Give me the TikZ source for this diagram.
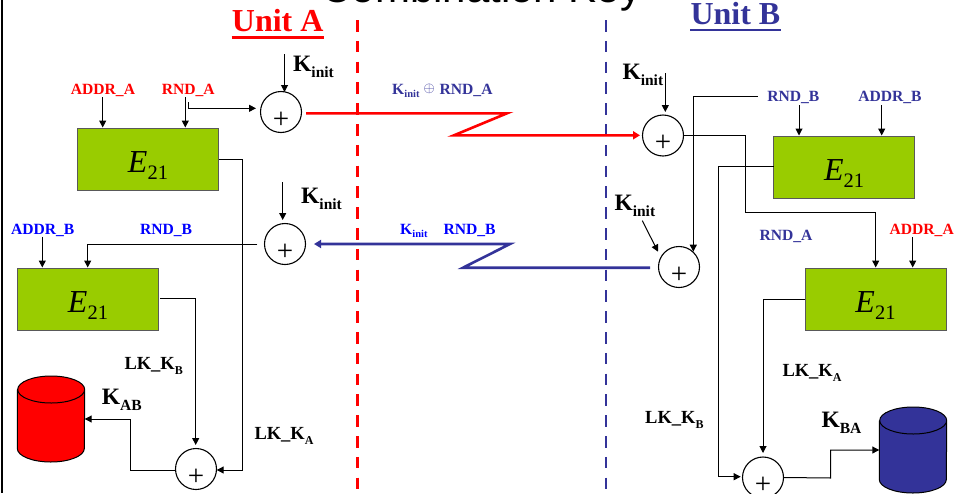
\documentclass[tikz,border=0pt]{standalone}
\usepackage{fontspec}
\setmainfont{Liberation Serif}
\newfontfamily\titlefont{Liberation Sans}
\usetikzlibrary{arrows.meta}
\definecolor{navy}{HTML}{333399}
\definecolor{pure}{HTML}{0000FF}
\definecolor{leaf}{HTML}{99CC00}
\newcommand{\fs}[1]{\fontsize{#1}{#1}\selectfont}
\newcommand{\Ksub}[1]{{\fs{23.5}\textbf{K}\raisebox{-6pt}{\fs{15.5}\textbf{#1}}}}
\newcommand{\LK}[1]{{\fs{18.5}\textbf{LK\_K}\raisebox{-5pt}{\fs{12}\textbf{#1}}}}
\newcommand{\Eblock}{\raisebox{-13pt}[0pt][0pt]{\fs{32}\textit{E}\raisebox{-7pt}{\fs{20.5}21}}}
\newcommand{\Kthin}{\textbf{K}\raisebox{-3pt}{\fs{10.5}\textbf{init}}}
\newcommand{\drum}[2]{%
  \draw[line width=1pt,black,fill=#2] ([yshift=29.5pt]#1.west) -- ([yshift=-29.5pt]#1.west)
    arc[start angle=180,end angle=360,x radius=33.5pt,y radius=13.5pt]
    -- ([yshift=29.5pt]#1.east)
    arc[start angle=0,end angle=360,x radius=33.5pt,y radius=13.5pt];
}
\tikzset{
  x=1pt,y=-1pt,
  wire/.style={line width=1pt,black},
  arrowed/.style={wire,-{Triangle[length=7pt,width=7pt]}},
  xorsum/.style={circle,draw=black,line width=1.1pt,fill=white,minimum size=41pt,inner sep=0pt,
    execute at begin node={\raisebox{-16pt}[0pt][0pt]{\fs{29}+}\phantom{}}},
  cipher/.style={rectangle,draw=black!65,line width=1pt,fill=leaf,minimum width=141pt,minimum height=62pt,inner sep=0pt},
  tag/.style={inner sep=0pt,anchor=base,font=\fs{15.6}\bfseries},
  keytag/.style={inner sep=0pt,anchor=base west,text=black},
  unit/.style={inner sep=0pt,anchor=base west,font=\fs{32}\bfseries},
  store/.style={rectangle,minimum width=67pt,minimum height=86pt,inner sep=0pt},
  boundary/.style={line width=2.8pt,dash pattern=on 11.5pt off 9.3pt},
  link/.style={line width=2.6pt,line join=miter,-{Triangle[length=7pt,width=8pt]}},
}
\begin{document}
\begin{tikzpicture}
\useasboundingbox (0,0) rectangle (958,493);
\clip (0,0) rectangle (958,493);
\node[inner sep=0pt,anchor=base] (title) at (481.5,2) {\titlefont\fs{42}Combination Key};
\draw[line width=2.3pt,black] (2,0) -- (2,493);
% boundaries
\coordinate (redtop) at (357.5,20); \coordinate (redbot) at (357.5,493);
\coordinate (blutop) at (606,20); \coordinate (blubot) at (606,493);
\draw[boundary,red] (redtop) -- (redbot);
\draw[boundary,navy] (blutop) -- (blubot);
% units
\node[unit,text=red] (ua) at (231.7,31.7) {Unit A};
\node[unit,text=navy] (ub) at (690.3,24) {Unit B};
\draw[line width=2.5pt,red] ([yshift=-5.6pt]ua.base west) -- ([yshift=-5.6pt]ua.base east);
\draw[line width=2.5pt,navy] ([yshift=-6pt]ub.base west) -- ([yshift=-6pt]ub.base east);
% blocks
\node[cipher] (e1) at (148,159) {\Eblock};
\node[cipher] (e2) at (88,299) {\Eblock};
\node[cipher] (e3) at (844.2,167) {\Eblock};
\node[cipher] (e4) at (875.5,299) {\Eblock};
% xor
\node[xorsum] (c1) at (281,112) {};
\node[xorsum] (c2) at (285,244) {};
\node[xorsum] (c3) at (196,469) {};
\node[xorsum] (c4) at (663,135.5) {};
\node[xorsum] (c5) at (679,267) {};
\node[xorsum] (c6) at (763,477.5) {};
% stores
\node[store] (dba) at (51,419) {};
\node[store] (dbb) at (913,450) {};
\drum{dba}{red}
\drum{dbb}{navy}
% small labels
\node[tag,text=red] (addra) at (103,94.3) {ADDR\_A};
\node[tag,text=red] (rnda) at (188.3,94.3) {RND\_A};
\node[tag,text=pure] (addrb) at (42.7,234) {ADDR\_B};
\node[tag,text=pure] (rndb) at (166,234) {RND\_B};
\node[tag,text=navy] (rndbr) at (793.3,101.7) {RND\_B};
\node[tag,text=navy] (addrbr) at (890,101.7) {ADDR\_B};
\node[tag,text=navy] (rndar) at (786,240.7) {RND\_A};
\node[tag,text=red] (addrar) at (921.7,234) {ADDR\_A};
\node[tag,text=navy,anchor=base west] (msga) at (392,94.3) {\Kthin\hspace{4pt}\raisebox{2pt}{$\oplus$}\hspace{5pt}RND\_A};
\node[tag,text=pure,anchor=base west] (msgb) at (400,234.3) {\Kthin\hspace{16pt}RND\_B};
% key labels
\node[keytag] (k1) at (293,71.7) {\Ksub{init}};
\node[keytag] (k2) at (301,203.3) {\Ksub{init}};
\node[keytag] (k3) at (622.3,79) {\Ksub{init}};
\node[keytag] (k4) at (614.3,210.7) {\Ksub{init}};
\node[keytag] (kab) at (101.7,404) {\Ksub{AB}};
\node[keytag] (kba) at (821.3,427.7) {\Ksub{BA}};
\node[keytag] (lkb) at (124.3,369) {\LK{B}};
\node[keytag] (lka) at (254.3,439) {\LK{A}};
\node[keytag] (lkbr) at (645,423.3) {\LK{B}};
\node[keytag] (lkar) at (782.3,376.7) {\LK{A}};
% free ends
\coordinate (s1) at (284.5,54); \coordinate (t1) at (284.5,92);
\coordinate (s2) at (282.7,182); \coordinate (t2) at (282.7,220);
\coordinate (s3) at (665.3,73.3); \coordinate (t3) at (665.3,112);
\coordinate (s4) at (642.3,220.7); \coordinate (t4) at (658,251.7);
\draw[arrowed] (s1) -- (t1);
\draw[arrowed] (s2) -- (t2);
\draw[arrowed] (s3) -- (t3);
\draw[arrowed] (s4) -- (t4);
% label to block
\coordinate (a1) at (102.7,97); \coordinate (a2) at (185.3,97);
\coordinate (a3) at (42.3,236.7); \coordinate (a4) at (799,105);
\coordinate (a5) at (881.7,105); \coordinate (a6) at (912.7,237);
\draw[arrowed] (a1) -- (a1 |- e1.north);
\draw[arrowed] (a2) -- (a2 |- e1.north);
\draw[arrowed] (a3) -- (a3 |- e2.north);
\draw[arrowed] (a4) -- (a4 |- e3.north);
\draw[arrowed] (a5) -- (a5 |- e3.north);
\draw[arrowed] (a6) -- (a6 |- e4.north);
% RND_A to c1
\coordinate (b1) at (188.7,102); \coordinate (b2) at (256,108.3);
\draw[arrowed] (b1) |- (b2);
% RND_B left
\coordinate (b3) at (257.3,244); \coordinate (b4) at (87.7,244);
\draw[arrowed] (b3) -- (b4) -- (b4 |- e2.north);
% RND_B right
\coordinate (b5) at (757.7,96); \coordinate (b6) at (693.3,251.7);
\draw[arrowed] (b5) -| (b6);
% c4 to e4
\coordinate (b7) at (745,212.3); \coordinate (b8) at (875.7,212.3);
\draw[arrowed] (c4.east) -| (b7) -- (b8) -- (b8 |- e4.north);
% e1,e2 to c3
\coordinate (d0) at (242.7,159); \coordinate (d1) at (242.7,470); \coordinate (d2) at (216.7,470);
\draw[wire] (e1.east) -- (d0) -- (d1);
\draw[arrowed] (d1) -- (d2);
\coordinate (d3) at (160,298.7); \coordinate (d4) at (195.7,445);
\draw[arrowed] (d3) -| (d4);
% c3 to dba
\coordinate (d5) at (175,470); \coordinate (d6) at (130.7,419);
\draw[arrowed] (d5) -| (d6) -- (dba.east);
% e3,e4 to c6
\coordinate (f0) at (773.5,166.7); \coordinate (f1) at (718,476.7); \coordinate (f2) at (740.7,476.7);
\draw[arrowed] (f0) -| (f1) -- (f2);
\coordinate (f3) at (763,453);
\draw[arrowed] (e4.west) -| (f3);
% c6 to dbb
\coordinate (f4) at (830.7,478);
\draw[arrowed] (c6.east) -- (f4) -- (f4 |- dbb.west) -- (dbb.west);
% radio links
\coordinate (l1) at (306,113.3); \coordinate (l2) at (507,113.3); \coordinate (l3) at (454,135.3); \coordinate (l4) at (640,135.3);
\draw[link,red] (l1) -- (l2) -- (l3) -- (l4);
\coordinate (m1) at (650,267.7); \coordinate (m2) at (463,267.7); \coordinate (m3) at (510,244); \coordinate (m4) at (314,244);
\draw[link,navy] (m1) -- (m2) -- (m3) -- (m4);
\end{tikzpicture}
\end{document}
